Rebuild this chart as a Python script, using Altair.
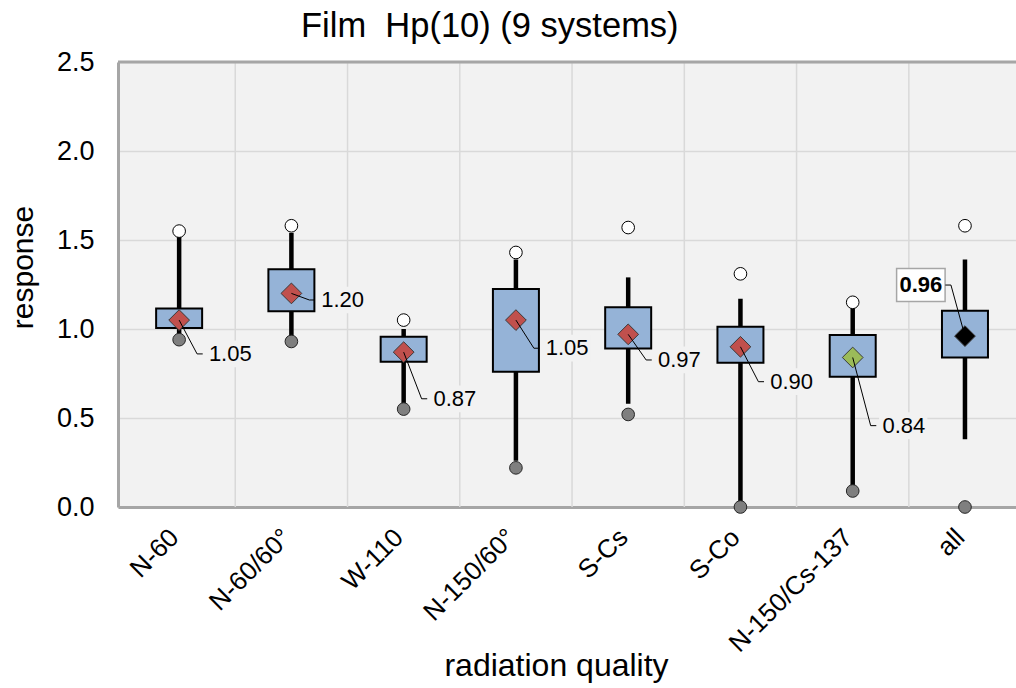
import json

import altair as alt
import numpy as np
import pandas as pd

# Response of 9 film dosemeter systems, Hp(10), per radiation quality
categories = ["N-60", "N-60/60°", "W-110", "N-150/60°", "S-Cs", "S-Co", "N-150/Cs-137", "all"]
maximum = [1.55, 1.58, 1.05, 1.43, 1.57, 1.31, 1.15, 1.58]
whisker_hi = [1.52, 1.54, 1.00, 1.39, 1.29, 1.17, 1.12, 1.39]
upper_q = [1.115, 1.335, 0.957, 1.225, 1.122, 1.013, 0.966, 1.103]
lower_q = [1.005, 1.10, 0.816, 0.76, 0.89, 0.81, 0.732, 0.84]
whisker_lo = [0.96, 0.95, 0.58, 0.26, 0.58, 0.0, 0.12, 0.38]
minimum = [0.94, 0.93, 0.55, 0.22, 0.52, 0.0, 0.09, 0.0]
mean = [1.05, 1.20, 0.87, 1.05, 0.97, 0.90, 0.84, 0.96]
mean_group = ["outside", "outside", "outside", "outside", "outside", "outside", "inside", "overall"]

# height of each value callout, in response units
label_y = [0.86, 1.163, 0.608, 0.892, 0.826, 0.704, 0.457, 1.247]

idx = np.arange(len(categories))
df = pd.DataFrame({
    "idx": idx,
    "category": categories,
    "maximum": maximum,
    "whisker_hi": whisker_hi,
    "upper_q": upper_q,
    "lower_q": lower_q,
    "whisker_lo": whisker_lo,
    "minimum": minimum,
    "mean": mean,
    "mean_group": mean_group,
    "label_y": label_y,
})
df["label"] = [f"{m:.2f}" for m in mean]
overall = df["mean_group"] == "overall"
side = np.where(overall, -1.0, 1.0)
df["elbow_x"] = df["idx"] + np.where(overall, -0.125, 0.16)
df["hend_x"] = df["elbow_x"] + side * 0.05
df["text_x"] = np.where(overall, df["idx"] - 0.393, df["idx"] + 0.265)
df["bg_x1"] = np.where(overall, df["text_x"] - 0.216, df["text_x"] - 0.03)
df["bg_x2"] = np.where(overall, df["text_x"] + 0.216, df["text_x"] + 0.40)
df["bg_y1"] = df["label_y"] - np.where(overall, 0.093, 0.075)
df["bg_y2"] = df["label_y"] + np.where(overall, 0.093, 0.075)

singles = df[~overall]
total = df[overall]

boundaries = pd.DataFrame({"b": idx[:-1] + 0.5})

FONT = "Liberation Sans"
FRAME = "#a6a6a6"

x_scale = alt.Scale(domain=[-0.5, 7.41], nice=False, zero=False)
y_scale = alt.Scale(domain=[0, 2.5], nice=False, zero=False)

x_axis = alt.Axis(
    values=[int(i) for i in idx],
    labelExpr=json.dumps(categories, ensure_ascii=False) + "[datum.value]",
    labelAngle=315,
    labelAlign="right",
    labelBaseline="middle",
    labelPadding=26,
    labelOffset=-5,
    labelFont=FONT,
    labelFontSize=26,
    labelColor="black",
    labelOverlap=False,
    labelFlush=False,
    labelBound=False,
    ticks=False,
    grid=False,
    domain=True,
    domainColor=FRAME,
    domainWidth=3,
    title="radiation quality",
    titleFont=FONT,
    titleFontSize=32,
    titleFontWeight="normal",
    titleColor="black",
    titleX=438,
    titleY=168,
    titleAlign="center",
    titleBaseline="alphabetic",
)
y_axis = alt.Axis(
    values=[0, 0.5, 1.0, 1.5, 2.0, 2.5],
    format=".1f",
    labelFont=FONT,
    labelFontSize=27,
    labelColor="black",
    labelPadding=24,
    labelOverlap=False,
    labelFlush=False,
    labelBaseline="middle",
    ticks=False,
    grid=True,
    gridColor="#d9d9d9",
    gridWidth=1.5,
    domain=True,
    domainColor=FRAME,
    domainWidth=3,
    title="response",
    titleFont=FONT,
    titleFontSize=30,
    titleFontWeight="normal",
    titleColor="black",
    titleAngle=270,
    titleX=-95,
    titleY=205,
    titleAlign="center",
    titleBaseline="middle",
)


def X(field):
    return alt.X(field, type="quantitative", scale=x_scale, axis=x_axis)


def Y(field):
    return alt.Y(field, type="quantitative", scale=y_scale, axis=y_axis)


vgrid = alt.Chart(boundaries).mark_rule(color="#d9d9d9", strokeWidth=1.5).encode(x=X("b"))
top_frame = alt.Chart(df.head(1)).mark_rule(color=FRAME, strokeWidth=3).encode(y=alt.datum(2.5))

whiskers = alt.Chart(df).mark_rule(color="black", strokeWidth=4.5).encode(
    x=X("idx"), y=Y("whisker_lo"), y2="whisker_hi"
)
boxes = alt.Chart(df).mark_bar(size=46, fill="#95b3d7", stroke="black", strokeWidth=2).encode(
    x=X("idx"), y=Y("lower_q"), y2="upper_q"
)
max_pts = alt.Chart(df).mark_point(
    shape="circle", filled=True, fill="white", stroke="black", strokeWidth=1, size=160, opacity=1
).encode(x=X("idx"), y=Y("maximum"))
min_pts = alt.Chart(df).mark_point(
    shape="circle", filled=True, fill="#7f7f7f", stroke="#262626", strokeWidth=1, size=160, opacity=1
).encode(x=X("idx"), y=Y("minimum"))
means = alt.Chart(df).mark_point(
    shape="diamond", filled=True, stroke="#3a3a3a", strokeWidth=1, size=430, opacity=1
).encode(
    x=X("idx"),
    y=Y("mean"),
    fill=alt.Fill(
        "mean_group:N",
        scale=alt.Scale(domain=["outside", "inside", "overall"], range=["#c0504d", "#9bbb59", "#000000"]),
        legend=None,
    ),
)

leader_diag = alt.Chart(df).mark_rule(color="black", strokeWidth=1).encode(
    x=X("idx"), y=Y("mean"), x2="elbow_x", y2="label_y"
)
leader_flat = alt.Chart(df).mark_rule(color="black", strokeWidth=1).encode(
    x=X("elbow_x"), x2="hend_x", y=Y("label_y")
)

label_bg = alt.Chart(singles).mark_rect(fill="#f2f2f2").encode(
    x=X("bg_x1"), x2="bg_x2", y=Y("bg_y1"), y2="bg_y2"
)
labels = alt.Chart(singles).mark_text(
    align="left", baseline="middle", font=FONT, fontSize=22, color="black"
).encode(x=X("text_x"), y=Y("label_y"), text="label:N")

total_bg = alt.Chart(total).mark_rect(fill="white", stroke=FRAME, strokeWidth=1.5).encode(
    x=X("bg_x1"), x2="bg_x2", y=Y("bg_y1"), y2="bg_y2"
)
total_label = alt.Chart(total).mark_text(
    align="center", baseline="middle", font=FONT, fontSize=22, fontWeight="bold", color="black"
).encode(x=X("text_x"), y=Y("label_y"), text="label:N")

chart = (
    alt.layer(
        vgrid, top_frame, whiskers, boxes, max_pts, min_pts, means,
        label_bg, labels, total_bg, total_label, leader_diag, leader_flat,
    )
    .properties(
        width=898,
        height=445,
        autosize=alt.AutoSizeParams(type="none"),
        padding={"left": 118, "top": 62, "right": 0, "bottom": 181},
        background="white",
        title=alt.Title(
            "Film\u00a0 Hp(10) (9 systems)",
            anchor="start",
            frame="group",
            dx=183,
            offset=-23,
            baseline="alphabetic",
            font=FONT,
            fontSize=34.5,
            fontWeight="normal",
            color="black",
        ),
    )
    .configure_view(fill="#f2f2f2", stroke="transparent")
)

chart.save("out.html", embed_options={"renderer": "svg", "actions": False})
